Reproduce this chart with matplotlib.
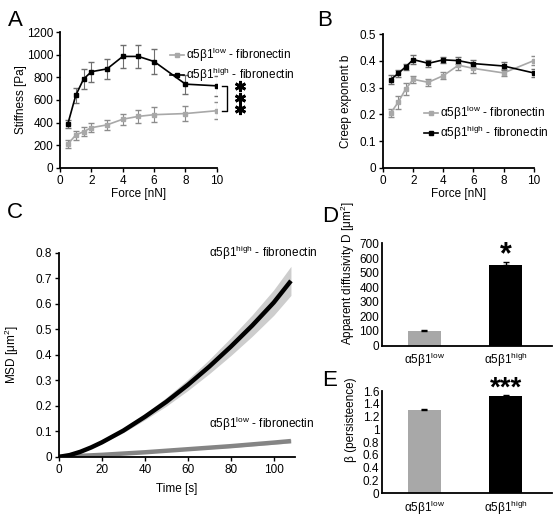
import numpy as np
import matplotlib
matplotlib.use("Agg")
import matplotlib.pyplot as plt
from matplotlib.lines import Line2D
from matplotlib.ticker import FuncFormatter

plt.rcParams["font.family"] = ["Liberation Sans", "DejaVu Sans"]
plt.rcParams["font.size"] = 8.5
plt.rcParams["mathtext.fontset"] = "custom"
plt.rcParams["mathtext.rm"] = "Liberation Sans"

# ---- data ----
force = [0.5, 1, 1.5, 2, 3, 4, 5, 6, 8, 10]

stiff_low = [210, 290, 320, 355, 380, 430, 455, 470, 480, 505]
stiff_low_err = [35, 40, 40, 40, 45, 50, 60, 65, 70, 75]
stiff_high = [390, 640, 785, 850, 875, 985, 985, 940, 740, 725]
stiff_high_err = [35, 70, 85, 90, 90, 100, 100, 110, 85, 90]

creep_low = [0.205, 0.245, 0.295, 0.331, 0.320, 0.345, 0.384, 0.372, 0.355, 0.401]
creep_low_err = [0.015, 0.025, 0.022, 0.012, 0.013, 0.013, 0.018, 0.016, 0.013, 0.017]
creep_high = [0.330, 0.353, 0.378, 0.405, 0.391, 0.404, 0.401, 0.390, 0.381, 0.355]
creep_high_err = [0.018, 0.013, 0.012, 0.017, 0.013, 0.012, 0.014, 0.013, 0.015, 0.015]

t_msd = [0, 5, 10, 15, 20, 30, 40, 50, 60, 70, 80, 90, 100, 108]
msd_high = [0, 0.007, 0.02, 0.037, 0.057, 0.103, 0.157, 0.216, 0.282, 0.354, 0.432, 0.515, 0.605, 0.69]
msd_high_err = [0, 0.001, 0.002, 0.003, 0.005, 0.008, 0.012, 0.017, 0.022, 0.028, 0.035, 0.042, 0.05, 0.057]
msd_low = [0, 0.002, 0.004, 0.006, 0.008, 0.013, 0.018, 0.024, 0.03, 0.036, 0.042, 0.049, 0.056, 0.062]
msd_low_err = [0, 0.0003, 0.0006, 0.001, 0.0013, 0.002, 0.0027, 0.0034, 0.004, 0.0047, 0.0054, 0.006, 0.0067, 0.0072]

groups = [r"α5β1$^{\mathregular{low}}$", r"α5β1$^{\mathregular{high}}$"]
diffusivity = [98, 550]
diffusivity_err = [10, 25]
persistence = [1.30, 1.52]
persistence_err = [0.02, 0.02]

LOW_LBL = r"α5β1$^{\mathregular{low}}$ - fibronectin"
HIGH_LBL = r"α5β1$^{\mathregular{high}}$ - fibronectin"

GRAY = "#a8a8a8"
SPINE_W = 1.3


def style(ax, ticks=True):
    for s in ["top", "right"]:
        ax.spines[s].set_visible(False)
    for s in ["left", "bottom"]:
        ax.spines[s].set_linewidth(SPINE_W)
    ax.tick_params(direction="out", length=3 if ticks else 0, width=1, pad=2, labelsize=8.5)


def add_legend(ax, anchor):
    handles = [Line2D([], [], color=GRAY, marker="s", ms=3, lw=1.2),
               Line2D([], [], color="black", marker="s", ms=3, lw=1.2)]
    ax.legend(handles, [LOW_LBL, HIGH_LBL], loc="upper left", bbox_to_anchor=anchor,
              frameon=False, fontsize=8.5, handlelength=1.2, handletextpad=0.2,
              labelspacing=0.15, borderpad=0, borderaxespad=0)


fmt_g = FuncFormatter(lambda v, p: f"{v:g}")

fig = plt.figure(figsize=(5.56, 5.18), dpi=100)

# ---- A: stiffness ----
axA = fig.add_axes([0.108, 0.676, 0.282, 0.262])
axA.errorbar(force, stiff_low, yerr=stiff_low_err, color=GRAY, marker="s", ms=3,
             lw=1.2, ecolor="#8c8c8c", elinewidth=0.8, capsize=2)
axA.errorbar(force, stiff_high, yerr=stiff_high_err, color="black", marker="s", ms=3,
             lw=1.2, ecolor="#6e6e6e", elinewidth=0.8, capsize=2)
axA.set_xlim(0, 10)
axA.set_ylim(0, 1200)
axA.set_xticks(range(0, 11, 2))
axA.set_yticks(range(0, 1201, 200))
axA.set_xlabel("Force [nN]", labelpad=1)
axA.set_ylabel("Stiffness [Pa]")
axA.yaxis.set_label_coords(-0.21, 0.5)
style(axA)
add_legend(axA, (0.70, 0.9))
# significance bracket
axA.plot([10.3, 10.65, 10.65, 10.3], [stiff_high[-1], stiff_high[-1], stiff_low[-1], stiff_low[-1]],
         color="black", lw=1, clip_on=False)
for yy in [724, 618, 521]:
    axA.plot([11.45], [yy], marker=(6, 2, 0), ms=8, mew=2.0, color="black", clip_on=False)

# ---- B: creep exponent ----
axB = fig.add_axes([0.689, 0.676, 0.271, 0.258])
axB.errorbar(force, creep_low, yerr=creep_low_err, color=GRAY, marker="s", ms=3,
             lw=1.2, ecolor="#8c8c8c", elinewidth=0.8, capsize=2)
axB.errorbar(force, creep_high, yerr=creep_high_err, color="black", marker="s", ms=3,
             lw=1.2, ecolor="#6e6e6e", elinewidth=0.8, capsize=2)
axB.set_xlim(0, 10)
axB.set_ylim(0, 0.5)
axB.set_xticks(range(0, 11, 2))
axB.set_yticks(np.arange(0, 0.51, 0.1))
axB.yaxis.set_major_formatter(fmt_g)
axB.set_xlabel("Force [nN]", labelpad=1)
axB.set_ylabel("Creep exponent b")
axB.yaxis.set_label_coords(-0.205, 0.5)
style(axB)
add_legend(axB, (0.27, 0.48))

# ---- C: MSD ----
axC = fig.add_axes([0.106, 0.118, 0.425, 0.394])
hi = np.array(msd_high); hie = np.array(msd_high_err)
lo = np.array(msd_low); loe = np.array(msd_low_err)
axC.fill_between(t_msd, hi - hie, hi + hie, color="#cdcdcd", lw=0)
axC.fill_between(t_msd, lo - loe, lo + loe, color="#cdcdcd", lw=0)
axC.plot(t_msd, msd_low, color="#858585", lw=3.2, solid_capstyle="butt")
axC.plot(t_msd, msd_high, color="black", lw=3.2, solid_capstyle="butt")
axC.set_xlim(0, 110)
axC.set_ylim(0, 0.8)
axC.set_xticks(range(0, 101, 20))
axC.set_yticks(np.arange(0, 0.81, 0.1))
axC.yaxis.set_major_formatter(fmt_g)
axC.set_xlabel("Time [s]", labelpad=5)
axC.set_ylabel(r"MSD [μm$^{\mathregular{2}}$]")
axC.yaxis.set_label_coords(-0.16, 0.5)
style(axC)
axC.text(70, 0.8, HIGH_LBL, fontsize=8.5, ha="left", va="center", clip_on=False)
axC.text(70, 0.128, LOW_LBL, fontsize=8.5, ha="left", va="center", clip_on=False)

# ---- D: diffusivity ----
xb = np.arange(len(groups))
axD = fig.add_axes([0.687, 0.333, 0.306, 0.197])
axD.bar(xb, diffusivity, width=0.41, color=[GRAY, "black"])
axD.errorbar(xb, diffusivity, yerr=[[0, 0], diffusivity_err], fmt="none", ecolor="black",
             elinewidth=1, capsize=2)
axD.set_xlim(-0.52, 1.57)
axD.set_ylim(0, 700)
axD.set_yticks(range(0, 701, 100))
axD.set_xticks(xb)
axD.set_xticklabels(groups)
axD.set_ylabel(r"Apparent diffusivity D [μm$^{\mathregular{2}}$]", fontsize=8.5)
axD.yaxis.set_label_coords(-0.145, 0.71)
style(axD, ticks=False)
axD.tick_params(axis="x", pad=4)
axD.annotate("*", xy=(1, 680), xytext=(0, -12), textcoords="offset points",
             ha="center", va="baseline", fontsize=22, fontweight="bold", annotation_clip=False)

# ---- E: persistence ----
axE = fig.add_axes([0.687, 0.048, 0.306, 0.197])
axE.bar(xb, persistence, width=0.41, color=[GRAY, "black"])
axE.errorbar(xb, persistence, yerr=[[0, 0], persistence_err], fmt="none", ecolor="black",
             elinewidth=1, capsize=2)
axE.set_xlim(-0.52, 1.57)
axE.set_ylim(0, 1.6)
axE.set_yticks(np.arange(0, 1.61, 0.2))
axE.yaxis.set_major_formatter(fmt_g)
axE.set_xticks(xb)
axE.set_xticklabels(groups)
axE.set_ylabel("β (persisteence)", fontsize=8.5)
axE.yaxis.set_label_coords(-0.145, 0.72)
style(axE, ticks=False)
axE.tick_params(axis="x", pad=4)
axE.annotate("***", xy=(1, 1.79), xytext=(0, -12), textcoords="offset points",
             ha="center", va="baseline", fontsize=20, fontweight="bold", annotation_clip=False)

# panel letters
for lbl, x, y in [("A", 15, 20), ("B", 325, 20), ("C", 15, 213), ("D", 330, 217), ("E", 330, 381)]:
    fig.text(x / 556, 1 - y / 518, lbl, fontsize=16, ha="center", va="center")

fig.savefig("out.png", dpi=100)
